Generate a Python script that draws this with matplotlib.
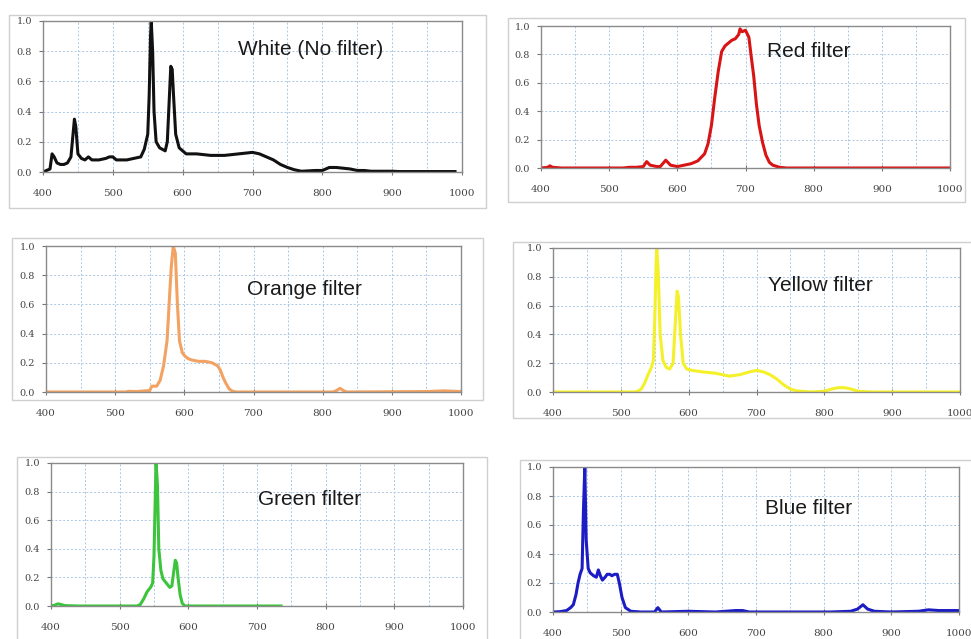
import matplotlib
matplotlib.use("Agg")
import matplotlib.pyplot as plt
from matplotlib.patches import Rectangle

# ---- data (wavelength nm, relative intensity) ----
wl_white = [400, 405, 410, 413, 416, 420, 425, 430, 435, 440, 443, 445, 447, 450, 455, 460,
            465, 470, 475, 480, 490, 495, 500, 505, 510, 520, 530, 540, 545, 550, 552, 554,
            555, 557, 559, 562, 567, 575, 578, 581, 583, 585, 587, 590, 595, 600, 605, 620,
            640, 660, 680, 700, 710, 720, 730, 740, 750, 760, 770, 790, 800, 810, 820, 830,
            840, 850, 860, 870, 900, 910, 950, 990]
int_white = [0.0, 0.01, 0.02, 0.12, 0.10, 0.06, 0.05, 0.05, 0.06, 0.10, 0.25, 0.35, 0.30, 0.12,
             0.09, 0.08, 0.10, 0.08, 0.08, 0.08, 0.09, 0.10, 0.10, 0.08, 0.08, 0.08, 0.09, 0.10,
             0.15, 0.25, 0.50, 0.90, 1.00, 0.80, 0.40, 0.20, 0.16, 0.14, 0.20, 0.50, 0.70, 0.68,
             0.50, 0.25, 0.16, 0.14, 0.12, 0.12, 0.11, 0.11, 0.12, 0.13, 0.12, 0.10, 0.08, 0.05,
             0.03, 0.015, 0.005, 0.01, 0.01, 0.03, 0.03, 0.025, 0.02, 0.01, 0.01, 0.005, 0.005,
             0.003, 0.003, 0.003]

wl_red = [400, 410, 413, 417, 430, 520, 530, 540, 550, 555, 560, 570, 575, 583, 590, 600, 610,
          620, 630, 640, 645, 650, 655, 660, 665, 670, 680, 685, 690, 692, 695, 700, 705, 708,
          712, 716, 720, 725, 730, 735, 740, 750, 760, 1000]
int_red = [0.0, 0.005, 0.015, 0.005, 0.0, 0.0, 0.005, 0.005, 0.01, 0.045, 0.02, 0.01, 0.01,
           0.055, 0.02, 0.01, 0.02, 0.03, 0.05, 0.10, 0.17, 0.30, 0.50, 0.68, 0.82, 0.86, 0.90,
           0.91, 0.94, 0.98, 0.96, 0.97, 0.92, 0.80, 0.65, 0.45, 0.30, 0.18, 0.09, 0.04, 0.02,
           0.005, 0.0, 0.0]

wl_orange = [400, 515, 520, 530, 550, 553, 560, 565, 570, 575, 578, 581, 584, 587, 590, 593,
             597, 600, 605, 610, 620, 630, 640, 648, 652, 656, 660, 665, 670, 675, 815, 820,
             825, 830, 835, 950, 975, 1000]
int_orange = [0.0, 0.0, 0.005, 0.003, 0.01, 0.04, 0.04, 0.08, 0.18, 0.35, 0.60, 0.85, 1.00,
              0.95, 0.60, 0.35, 0.27, 0.25, 0.23, 0.22, 0.21, 0.21, 0.20, 0.18, 0.15, 0.10,
              0.06, 0.02, 0.005, 0.0, 0.0, 0.01, 0.025, 0.01, 0.0, 0.003, 0.008, 0.003]

wl_yellow = [400, 520, 525, 530, 535, 540, 545, 548, 550, 552, 553, 555, 558, 562, 567, 572,
             577, 580, 583, 585, 588, 592, 597, 605, 620, 640, 660, 675, 690, 700, 710, 720,
             730, 740, 750, 760, 780, 800, 810, 820, 830, 840, 850, 870, 1000]
int_yellow = [0.0, 0.0, 0.005, 0.02, 0.06, 0.12, 0.17, 0.22, 0.50, 0.90, 1.00, 0.85, 0.40,
              0.22, 0.17, 0.16, 0.20, 0.45, 0.70, 0.66, 0.40, 0.20, 0.16, 0.15, 0.14, 0.13,
              0.11, 0.12, 0.14, 0.15, 0.14, 0.12, 0.09, 0.05, 0.02, 0.007, 0.0, 0.005, 0.02,
              0.03, 0.03, 0.02, 0.005, 0.0, 0.0]

wl_green = [400, 405, 410, 415, 420, 440, 525, 530, 535, 540, 545, 548, 550, 552, 553, 555,
            557, 560, 563, 568, 573, 576, 579, 581, 583, 585, 588, 591, 595, 735]
int_green = [0.0, 0.005, 0.015, 0.01, 0.003, 0.0, 0.0, 0.01, 0.05, 0.10, 0.13, 0.16, 0.35,
             0.80, 1.00, 0.85, 0.40, 0.25, 0.19, 0.16, 0.13, 0.14, 0.25, 0.32, 0.30, 0.20,
             0.08, 0.02, 0.0, 0.0]

wl_blue = [400, 410, 420, 426, 430, 434, 437, 440, 443, 445, 447, 449, 452, 455, 460, 464, 467,
           470, 473, 477, 480, 484, 487, 491, 495, 498, 502, 507, 515, 530, 550, 555, 560, 600,
           640, 670, 680, 690, 810, 840, 850, 858, 865, 875, 900, 940, 955, 970, 1000]
int_blue = [0.0, 0.002, 0.01, 0.03, 0.05, 0.12, 0.20, 0.26, 0.30, 0.70, 1.00, 0.50, 0.30, 0.27,
            0.25, 0.24, 0.29, 0.25, 0.22, 0.24, 0.26, 0.26, 0.25, 0.26, 0.26, 0.20, 0.10, 0.03,
            0.005, 0.0, 0.0, 0.03, 0.0, 0.005, 0.0, 0.01, 0.01, 0.0, 0.0, 0.005, 0.02, 0.05,
            0.02, 0.005, 0.0, 0.005, 0.015, 0.01, 0.01]

labels = ["White (No filter)", "Red filter", "Orange filter",
          "Yellow filter", "Green filter", "Blue filter"]

W, H = 971, 639
fig = plt.figure(figsize=(W / 100, H / 100), dpi=100)
fig.patch.set_facecolor("white")

# panel layout in pixels: frame box, plot area box, label position (axes fraction)
panels = [
    dict(frame=(9, 15, 486, 208), plot=(43, 21, 462, 172), txt=(0.465, 0.81),
         x=wl_white, y=int_white, color="#111111", label=labels[0]),
    dict(frame=(508, 18, 965, 202), plot=(541, 26, 950, 168), txt=(0.553, 0.817),
         x=wl_red, y=int_red, color="#d81414", label=labels[1]),
    dict(frame=(12, 238, 483, 400), plot=(46, 246, 461, 392), txt=(0.484, 0.70),
         x=wl_orange, y=int_orange, color="#f2a262", label=labels[2]),
    dict(frame=(513, 242, 985, 418), plot=(553, 248, 960, 392), txt=(0.528, 0.743),
         x=wl_yellow, y=int_yellow, color="#f4f02a", label=labels[3]),
    dict(frame=(17, 457, 487, 650), plot=(51, 463, 463, 606), txt=(0.502, 0.748),
         x=wl_green, y=int_green, color="#3cc43c", label=labels[4]),
    dict(frame=(520, 460, 985, 650), plot=(553, 467, 959, 612), txt=(0.522, 0.717),
         x=wl_blue, y=int_blue, color="#1c1cc4", label=labels[5]),
]

for p in panels:
    x0, y0, x1, y1 = p["frame"]
    fig.patches.append(Rectangle((x0 / W, 1 - y1 / H), (x1 - x0) / W, (y1 - y0) / H,
                                 transform=fig.transFigure, fill=False,
                                 edgecolor="#cfcfcf", linewidth=1.0))
    a0, b0, a1, b1 = p["plot"]
    ax = fig.add_axes([a0 / W, 1 - b1 / H, (a1 - a0) / W, (b1 - b0) / H])
    ax.plot(p["x"], p["y"], color=p["color"], linewidth=2.2, solid_joinstyle="round")
    ax.set_xlim(400, 1000)
    ax.set_ylim(0, 1.0)
    ax.set_xticks(range(400, 1001, 100))
    ax.set_xticks(range(450, 1000, 100), minor=True)
    ax.set_yticks([0, 0.2, 0.4, 0.6, 0.8, 1.0])
    ax.set_yticklabels(["0.0", "0.2", "0.4", "0.6", "0.8", "1.0"])
    ax.grid(True, which="both", color="#a9c7e6", linestyle=(0, (2, 2)), linewidth=0.7)
    ax.set_axisbelow(True)
    ax.tick_params(axis="x", which="major", direction="inout", length=5, width=0.8,
                   color="#777777", labelsize=7.5, labelcolor="#444444", pad=10)
    ax.tick_params(axis="x", which="minor", length=0)
    ax.tick_params(axis="y", direction="out", length=3, width=0.8, color="#777777",
                   labelsize=7, labelcolor="#444444", pad=5)
    for lab in ax.get_xticklabels() + ax.get_yticklabels():
        lab.set_family("DejaVu Serif")
    for s in ax.spines.values():
        s.set_color("#8a8a8a")
        s.set_linewidth(1.0)
    ax.text(p["txt"][0], p["txt"][1], p["label"], transform=ax.transAxes,
            fontsize=15, family="Liberation Sans", color="#1a1a1a", va="center", ha="left")

fig.savefig("out.png", dpi=100)
